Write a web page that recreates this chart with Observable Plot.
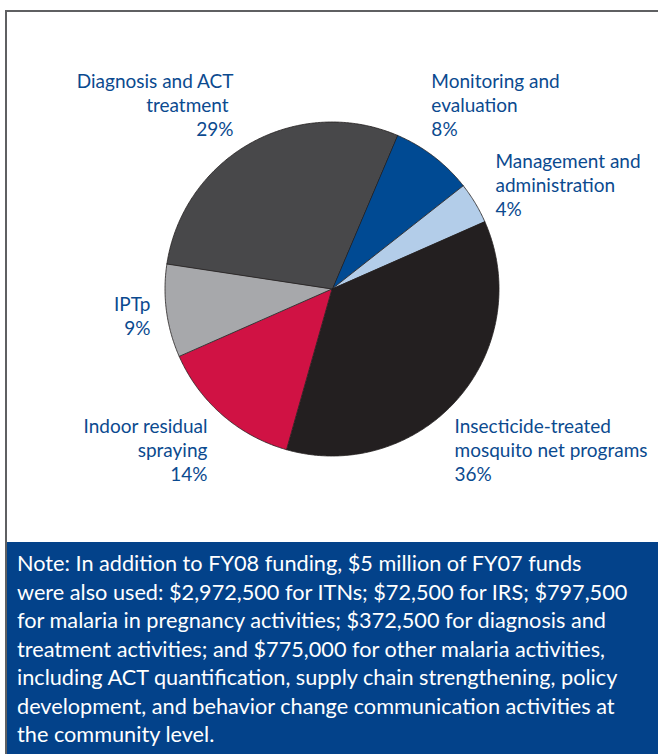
<!DOCTYPE html>
<html>
<head>
<meta charset="utf-8">
<script src="https://cdn.jsdelivr.net/npm/d3@7"></script>
<script src="https://cdn.jsdelivr.net/npm/@observablehq/plot@0.6"></script>
<style>
  html, body { margin: 0; padding: 0; background: #fff; }
  #wrap { position: relative; width: 658px; height: 754px; overflow: hidden; font-family: Lato, "Open Sans", sans-serif; }
  #frame { position: absolute; left: 5px; top: 10px; right: -4px; bottom: -4px; border-left: 2px solid #5f6062; border-top: 2px solid #5f6062; }
  #chart { position: absolute; left: 0; top: 0; }
  #note { position: absolute; left: 7px; top: 542px; width: 651px; height: 212px; background: #03428a; color: #fff;
          font-size: 21.7px; line-height: 28.5px; padding: 7px 0 0 10px; box-sizing: border-box; white-space: nowrap; }
</style>
</head>
<body>
<div id="wrap">
  <div id="frame"></div>
  <div id="chart"></div>
  <div id="note"></div>
</div>
<script>
// ---- data ----
const categories = [
  "Monitoring and evaluation",
  "Management and administration",
  "Insecticide-treated mosquito net programs",
  "Indoor residual spraying",
  "IPTp",
  "Diagnosis and ACT treatment"
];
const shares = [8, 4, 36, 14, 9, 29];
const labelLines = [
  ["Monitoring and", "evaluation"],
  ["Management and", "administration"],
  ["Insecticide-treated", "mosquito net programs"],
  ["Indoor residual", "spraying"],
  ["IPTp"],
  ["Diagnosis and ACT", "treatment\u00a0"]
];
const colors = ["#004a93", "#b3cde9", "#231f20", "#d01244", "#a7a8ab", "#48484a"];
const noteLines = [
  "Note: In addition to FY08 funding, $5 million of FY07 funds",
  "were also used: $2,972,500 for ITNs; $72,500 for IRS; $797,500",
  "for malaria in pregnancy activities; $372,500 for diagnosis and",
  "treatment activities; and $775,000 for other malaria activities,",
  "including ACT quantification, supply chain strengthening, policy",
  "development, and behavior change communication activities at",
  "the community level."
];

// ---- layout (pie units: radius = 1) ----
const startDeg = 23;
const labelLayout = [
  {x: 0.595, y: 1.308, anchor: "start"},
  {x: 0.979, y: 0.829, anchor: "start"},
  {x: 0.734, y: -0.757, anchor: "start"},
  {x: -0.746, y: -0.757, anchor: "end"},
  {x: -1.087, y: -0.027, anchor: "end"},
  {x: -0.590, y: 1.308, anchor: "end"}
];

const arcs = d3.pie().sort(null).value(d => d)
  .startAngle(startDeg * Math.PI / 180)
  .endAngle(startDeg * Math.PI / 180 + 2 * Math.PI)(shares);

const slicePts = [];
arcs.forEach((a, i) => {
  const cat = categories[i];
  slicePts.push({cat, x: 0, y: 0});
  const n = Math.max(2, Math.ceil((a.endAngle - a.startAngle) / (Math.PI / 360)));
  for (let k = 0; k <= n; k++) {
    const t = a.startAngle + (a.endAngle - a.startAngle) * k / n;
    slicePts.push({cat, x: Math.sin(t), y: Math.cos(t)});
  }
});

const labels = categories.map((c, i) => ({
  cat: c,
  text: [...labelLines[i], `${shares[i]}%`].join("\n"),
  x: labelLayout[i].x,
  y: labelLayout[i].y,
  anchor: labelLayout[i].anchor
}));

const cx = 331.5, cy = 288.5, R = 167, W = 658, H = 542;
const chart = Plot.plot({
  width: W,
  height: H,
  marginLeft: cx - R,
  marginRight: W - (cx + R),
  marginTop: cy - R,
  marginBottom: H - (cy + R),
  x: {domain: [-1, 1], axis: null},
  y: {domain: [-1, 1], axis: null},
  color: {domain: categories, range: colors},
  style: {background: "transparent", overflow: "visible"},
  marks: [
    Plot.line(slicePts, {x: "x", y: "y", z: "cat", fill: "cat", stroke: "#231f20", strokeWidth: 0.8, curve: "linear-closed", strokeLinejoin: "round"}),
    Plot.text(labels.filter(d => d.anchor === "start"), {x: "x", y: "y", text: "text", textAnchor: "start", lineAnchor: "top", lineHeight: 1.27, fontSize: 19, fill: "#0b4a8f", fontFamily: "Lato, sans-serif"}),
    Plot.text(labels.filter(d => d.anchor === "end"), {x: "x", y: "y", text: "text", textAnchor: "end", lineAnchor: "top", lineHeight: 1.27, fontSize: 19, fill: "#0b4a8f", fontFamily: "Lato, sans-serif"})
  ]
});
document.getElementById("chart").appendChild(chart);
document.getElementById("note").innerHTML = noteLines.map(l => l.replace(/&/g, "&amp;")).join("<br>");
</script>
</body>
</html>
